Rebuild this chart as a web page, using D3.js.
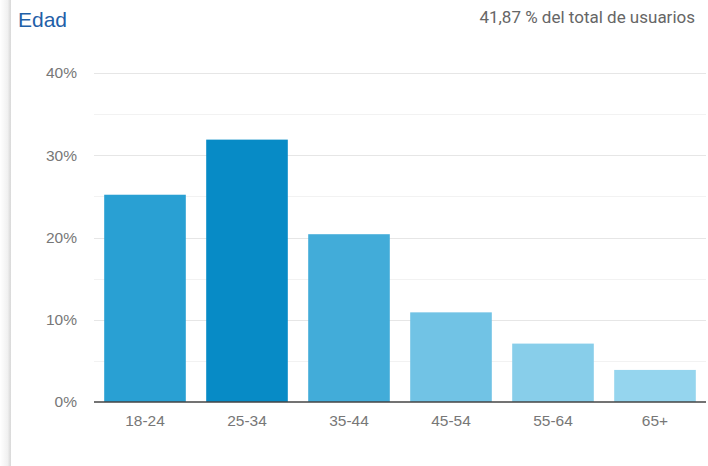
<!DOCTYPE html>
<html><head><meta charset="utf-8">
<script src="https://cdn.jsdelivr.net/npm/d3@7"></script>
<style>html,body{margin:0;padding:0;background:#fff;}svg{display:block;}</style>
</head><body>
<svg id="chart" width="708" height="466"></svg>
<script>
const categories = ["18-24","25-34","35-44","45-54","55-64","65+"];
const values = [25.2, 31.9, 20.4, 10.9, 7.1, 3.9];
const barColors = ["#29a0d3","#078bc6","#42acd9","#71c3e5","#88ceea","#95d5ee"];
const yTicks = [0,10,20,30,40];
const minorTicks = [5,15,25,35];
const title = "Edad";
const subtitle = "41,87 % del total de usuarios";

const svg = d3.select("#chart");
const defs = svg.append("defs");
const grad = defs.append("linearGradient").attr("id","shadow").attr("x1","0").attr("x2","1");
grad.append("stop").attr("offset","0").attr("stop-color","#ffffff");
grad.append("stop").attr("offset","0.7").attr("stop-color","#f0f0f0");
grad.append("stop").attr("offset","0.95").attr("stop-color","#d8d8d8");
grad.append("stop").attr("offset","1").attr("stop-color","#ffffff");
svg.append("rect").attr("x",0).attr("y",0).attr("width",11).attr("height",466).attr("fill","url(#shadow)");

const x = d3.scaleBand().domain(categories).range([94,706]).paddingInner(0.2).paddingOuter(0.1);
const y = d3.scaleLinear().domain([0,40]).range([402,73]);

const font = "'Liberation Sans', Arial, sans-serif";

svg.append("text").attr("x",18).attr("y",27).text(title)
  .attr("font-family",font).attr("font-size",21).attr("fill","#1f60a8");
svg.append("text").attr("x",695).attr("y",23).attr("text-anchor","end").text(subtitle)
  .attr("font-family","Roboto, sans-serif").attr("font-size",17).attr("fill","#666");

// gridlines
svg.append("g").selectAll("line").data(minorTicks).join("line")
  .attr("x1",94).attr("x2",706).attr("y1",d=>Math.round(y(d))+0.5).attr("y2",d=>Math.round(y(d))+0.5)
  .attr("stroke","#f2f2f2");
svg.append("g").selectAll("line").data(yTicks.filter(d=>d>0)).join("line")
  .attr("x1",94).attr("x2",706).attr("y1",d=>Math.round(y(d))+0.5).attr("y2",d=>Math.round(y(d))+0.5)
  .attr("stroke","#e6e6e6");

// y axis labels
const yAxis = d3.axisLeft(y).tickValues(yTicks).tickFormat(d=>d+"%").tickSize(0).tickPadding(0);
const yg = svg.append("g").attr("transform","translate(77,0)").call(yAxis);
yg.select(".domain").remove();
yg.selectAll("text").attr("font-family",font).attr("font-size",15.5).attr("fill","#777");

// bars
svg.append("g").selectAll("rect").data(values).join("rect")
  .attr("x",(d,i)=>x(categories[i])).attr("width",x.bandwidth())
  .attr("y",d=>y(d)).attr("height",d=>y(0)-y(d))
  .attr("fill",(d,i)=>barColors[i]);

// x axis
const xAxis = d3.axisBottom(x).tickSize(0).tickPadding(13);
const xg = svg.append("g").attr("transform","translate(0,402)").call(xAxis);
xg.select(".domain").attr("stroke","#444").attr("stroke-width",1.5).attr("d","M94,0H706");
xg.selectAll("text").attr("font-family",font).attr("font-size",15.5).attr("fill","#777");
</script>
</body></html>
